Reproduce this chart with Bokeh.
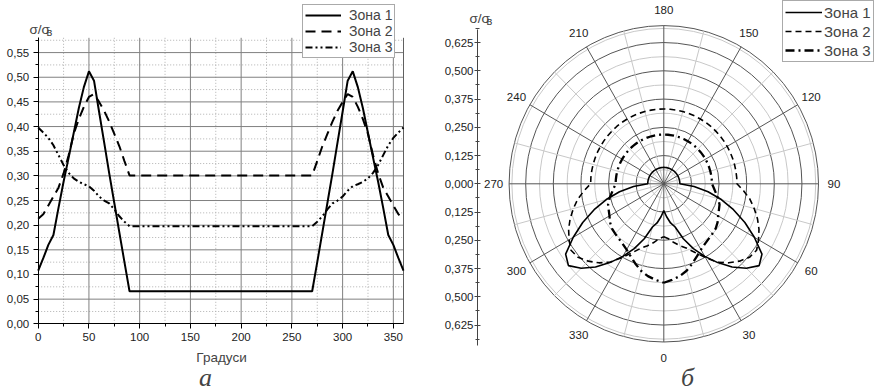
import numpy as np
from bokeh.plotting import figure
from bokeh.layouts import row
from bokeh.models import (Legend, LegendItem, FixedTicker, CustomJSTickFormatter, Label)
from bokeh.embed import file_html
from bokeh.resources import INLINE

# ---------------- data ----------------
angles = list(range(0, 361, 5))  # degrees

zone1 = [0.108, 0.133, 0.160, 0.180, 0.235, 0.288, 0.337, 0.387, 0.437, 0.480,
         0.512, 0.493, 0.430, 0.368, 0.305, 0.245, 0.185, 0.125, 0.066,
         0.066, 0.066, 0.066, 0.066, 0.066, 0.066, 0.066, 0.066, 0.066, 0.066,
         0.066, 0.066, 0.066, 0.066, 0.066, 0.066, 0.066, 0.066, 0.066, 0.066,
         0.066, 0.066, 0.066, 0.066, 0.066, 0.066, 0.066, 0.066, 0.066, 0.066,
         0.066, 0.066, 0.066, 0.066, 0.066,
         0.066, 0.125, 0.185, 0.245, 0.305, 0.368, 0.430, 0.493, 0.512, 0.480,
         0.437, 0.387, 0.337, 0.288, 0.235, 0.180, 0.160, 0.133, 0.108]

zone2 = [0.213, 0.222, 0.240, 0.258, 0.276, 0.305, 0.342, 0.385, 0.415, 0.440,
         0.460, 0.466, 0.450, 0.432, 0.410, 0.385, 0.360, 0.330, 0.301,
         0.301, 0.301, 0.301, 0.301, 0.301, 0.301, 0.301, 0.301, 0.301, 0.301,
         0.301, 0.301, 0.301, 0.301, 0.301, 0.301, 0.301, 0.301, 0.301, 0.301,
         0.301, 0.301, 0.301, 0.301, 0.301, 0.301, 0.301, 0.301, 0.301, 0.301,
         0.301, 0.301, 0.301, 0.301, 0.301,
         0.301, 0.330, 0.360, 0.385, 0.410, 0.432, 0.450, 0.466, 0.460, 0.440,
         0.415, 0.385, 0.342, 0.305, 0.276, 0.258, 0.240, 0.222, 0.213]

zone3 = [0.398, 0.388, 0.377, 0.362, 0.342, 0.322, 0.306, 0.295, 0.288, 0.283,
         0.279, 0.270, 0.258, 0.250, 0.244, 0.232, 0.218, 0.207, 0.198,
         0.198, 0.198, 0.198, 0.198, 0.198, 0.198, 0.198, 0.198, 0.198, 0.198,
         0.198, 0.198, 0.198, 0.198, 0.198, 0.198, 0.198, 0.198, 0.198, 0.198,
         0.198, 0.198, 0.198, 0.198, 0.198, 0.198, 0.198, 0.198, 0.198, 0.198,
         0.198, 0.198, 0.198, 0.198, 0.198,
         0.198, 0.207, 0.218, 0.232, 0.244, 0.250, 0.258, 0.270, 0.279, 0.283,
         0.288, 0.295, 0.306, 0.322, 0.342, 0.362, 0.377, 0.388, 0.398]

zone_names = ["Зона 1", "Зона 2", "Зона 3"]
x_ticks = [0, 50, 100, 150, 200, 250, 300, 350]
x_minor = [25, 75, 125, 175, 225, 275, 325]
y_ticks = [0.0, 0.05, 0.10, 0.15, 0.20, 0.25, 0.30, 0.35, 0.40, 0.45, 0.50, 0.55]
y_minor = [0.025, 0.075, 0.125, 0.175, 0.225, 0.275, 0.325, 0.375, 0.425, 0.475, 0.525, 0.575]
x_axis_end = 360
y_axis_end = 0.58
polar_ticks = [-0.625, -0.5, -0.375, -0.25, -0.125, 0.0, 0.125, 0.25, 0.375, 0.5, 0.625]
polar_minor = [-0.6875, -0.5625, -0.4375, -0.3125, -0.1875, -0.0625,
               0.0625, 0.1875, 0.3125, 0.4375, 0.5625, 0.6875]
ring_major = [0.125, 0.25, 0.375, 0.5, 0.625, 0.7]
ring_minor = [0.0625, 0.1875, 0.3125, 0.4375, 0.5625, 0.6875]
angle_ticks = [0, 30, 60, 90, 120, 150, 180, 210, 240, 270, 300, 330]
angle_minor = [15, 45, 75, 105, 135, 165, 195, 225, 255, 285, 315, 345]
POLAR_GAIN = 1.1  # radial axis units per data unit in the polar panel

FONT = "Liberation Sans"
H = 392

# ---------------- left chart (frame = whole canvas, axes at fixed locations) ----------------
W1 = 430
X0_PX, Y0_PX = 37.7, 323.3          # pixel of (0, 0)
SX1 = 365.3 / 360.0                 # px per degree
SY1 = 286.0 / 0.58                  # px per unit

def d1x(px):
    return (px - X0_PX) / SX1
def d1y(py):
    return (Y0_PX - py) / SY1

p1 = figure(width=W1, height=H, x_range=(d1x(0), d1x(W1)), y_range=(d1y(H), d1y(0)),
            output_backend="svg", toolbar_location=None,
            min_border=0, min_border_left=0, min_border_right=0,
            min_border_top=0, min_border_bottom=0)
p1.outline_line_color = None
p1.grid.visible = False
p1.background_fill_color = "white"
p1.border_fill_color = "white"

xa = p1.xaxis[0]
yax = p1.yaxis[0]
xa.fixed_location = 0
yax.fixed_location = 0
xa.bounds = (0, x_axis_end)
yax.bounds = (0, y_axis_end)
xa.ticker = FixedTicker(ticks=x_ticks, minor_ticks=x_minor)
yax.ticker = FixedTicker(ticks=y_ticks, minor_ticks=y_minor)
yax.formatter = CustomJSTickFormatter(code="return tick.toFixed(2).replace('.', ',');")
for ax in (xa, yax):
    ax.axis_line_color = "black"
    ax.major_tick_line_color = "black"
    ax.minor_tick_line_color = "black"
    ax.major_tick_out = 5
    ax.major_tick_in = 0
    ax.minor_tick_out = 3
    ax.minor_tick_in = 0
    ax.major_label_standoff = 4
    ax.major_label_text_font = FONT
    ax.major_label_text_font_size = "11.5px"
    ax.major_label_text_color = "#222222"

# grid lines (drawn within the axis bounds)
p1.segment(x0=x_minor, y0=0, x1=x_minor, y1=y_axis_end, line_color="#b0b0b0",
           line_width=1, line_dash="1 2")
p1.segment(x0=0, y0=y_minor, x1=x_axis_end, y1=y_minor, line_color="#b0b0b0",
           line_width=1, line_dash="1 2")
p1.segment(x0=x_ticks[1:], y0=0, x1=x_ticks[1:], y1=y_axis_end, line_color="#808080", line_width=1)
p1.segment(x0=0, y0=y_ticks[1:], x1=x_axis_end, y1=y_ticks[1:], line_color="#808080", line_width=1)
p1.segment(x0=[x_axis_end], y0=0, x1=[x_axis_end], y1=y_axis_end, line_color="#606060", line_width=1)

r11 = p1.line(angles, zone1, line_color="black", line_width=2)
r12 = p1.line(angles, zone2, line_color="black", line_width=2, line_dash="10 6")
r13 = p1.line(angles, zone3, line_color="black", line_width=2, line_dash="7 3 2 3 2 3")

leg1 = Legend(items=[LegendItem(label=n, renderers=[r]) for n, r in zip(zone_names, [r11, r12, r13])],
              location=(302, H - 58), orientation="vertical",
              label_text_font=FONT, label_text_font_size="14px",
              glyph_width=36, glyph_height=14, label_height=14, label_standoff=8,
              spacing=0, padding=2, margin=0,
              border_line_color="#555555", border_line_width=1,
              background_fill_color="white", background_fill_alpha=1.0)
p1.add_layout(leg1)

p1.add_layout(Label(x=d1x(221), y=d1y(357), text="Градуси", text_font=FONT,
                    text_font_size="13.5px", text_align="center", text_baseline="middle"))
p1.add_layout(Label(x=d1x(29), y=d1y(28.5), text="σ/σ", text_font=FONT, text_font_size="13.5px",
                    text_baseline="middle", text_align="left"))
p1.add_layout(Label(x=d1x(46), y=d1y(31.5), text="в", text_font=FONT, text_font_size="11px",
                    text_baseline="middle", text_align="left"))
p1.add_layout(Label(x=d1x(205), y=d1y(391), text="а", text_font="Liberation Serif",
                    text_font_style="italic", text_font_size="26px",
                    text_baseline="bottom", text_align="center"))

# ---------------- polar chart ----------------
W2 = 878 - W1
CX_PX, CY_PX = 663.3 - W1, 183.3    # centre, local pixels
SX2, SY2 = 221.0, 226.0             # px per radial-axis unit

def d2x(px):
    return (px - W1 - CX_PX) / SX2
def d2y(py):
    return (CY_PX - py) / SY2

p2 = figure(width=W2, height=H, x_range=(d2x(W1), d2x(878)), y_range=(d2y(H), d2y(0)),
            output_backend="svg", toolbar_location=None,
            min_border=0, min_border_left=0, min_border_right=0,
            min_border_top=0, min_border_bottom=0)
p2.outline_line_color = None
p2.grid.visible = False
p2.xaxis.visible = False
p2.background_fill_color = "white"
p2.border_fill_color = "white"

ya = p2.yaxis[0]
ya.fixed_location = d2x(477)
ya.bounds = (d2y(345), d2y(29))
ya.ticker = FixedTicker(ticks=polar_ticks, minor_ticks=polar_minor)
ya.formatter = CustomJSTickFormatter(code="return Math.abs(tick).toFixed(3).replace('.', ',');")
ya.axis_line_color = "#444444"
ya.major_tick_line_color = "#444444"
ya.minor_tick_line_color = "#444444"
ya.major_tick_out = 3
ya.major_tick_in = 3
ya.minor_tick_out = 2
ya.minor_tick_in = 2
ya.major_label_standoff = 1
ya.major_label_text_font = FONT
ya.major_label_text_font_size = "11.5px"
ya.major_label_text_color = "#222222"

# grid rings and spokes
rm = np.array(ring_minor)
p2.ellipse(x=0, y=0, width=2 * rm, height=2 * rm, fill_color=None,
           line_color="#c8c8c8", line_width=1)
rM = np.array(ring_major)
p2.ellipse(x=0, y=0, width=2 * rM, height=2 * rM, fill_color=None,
           line_color="#555555", line_width=1)
R_OUT = ring_major[-1]
am = np.radians(angle_minor)
p2.segment(x0=0, y0=0, x1=R_OUT * np.sin(am), y1=-R_OUT * np.cos(am),
           line_color="#c8c8c8", line_width=1)
aM = np.radians(angle_ticks)
p2.segment(x0=0, y0=0, x1=R_OUT * np.sin(aM), y1=-R_OUT * np.cos(aM),
           line_color="#555555", line_width=1)

th = np.radians(angles)
def px(v):
    return np.array(v) * POLAR_GAIN * np.sin(th)
def py(v):
    return -np.array(v) * POLAR_GAIN * np.cos(th)

r21 = p2.line(px(zone1), py(zone1), line_color="black", line_width=1.6)
r22 = p2.line(px(zone2), py(zone2), line_color="black", line_width=1.6, line_dash="6 4")
r23 = p2.line(px(zone3), py(zone3), line_color="black", line_width=2.3, line_dash="9 4 2 4")

leg2 = Legend(items=[LegendItem(label=n, renderers=[r]) for n, r in zip(zone_names, [r21, r22, r23])],
              location=(782 - W1, H - 62), orientation="vertical",
              label_text_font=FONT, label_text_font_size="15px",
              glyph_width=37, glyph_height=18, label_height=18, label_standoff=2,
              spacing=1, padding=2, margin=0,
              border_line_color="#555555", border_line_width=1,
              background_fill_color="white", background_fill_alpha=1.0)
p2.add_layout(leg2)

R_LBL = 0.77
for a in angle_ticks:
    t = np.radians(a)
    p2.add_layout(Label(x=R_LBL * np.sin(t), y=-R_LBL * np.cos(t), text=str(a),
                        text_font=FONT, text_font_size="11.5px", text_color="#222222",
                        text_align="center", text_baseline="middle"))

p2.add_layout(Label(x=d2x(469), y=d2y(17.5), text="σ/σ", text_font=FONT, text_font_size="13.5px",
                    text_baseline="middle", text_align="left"))
p2.add_layout(Label(x=d2x(486), y=d2y(20), text="в", text_font=FONT, text_font_size="11px",
                    text_baseline="middle", text_align="left"))
p2.add_layout(Label(x=d2x(687), y=d2y(391), text="б", text_font="Liberation Serif",
                    text_font_style="italic", text_font_size="26px",
                    text_baseline="bottom", text_align="center"))

layout = row(p1, p2)
open("out.html", "w").write(file_html(layout, INLINE))
